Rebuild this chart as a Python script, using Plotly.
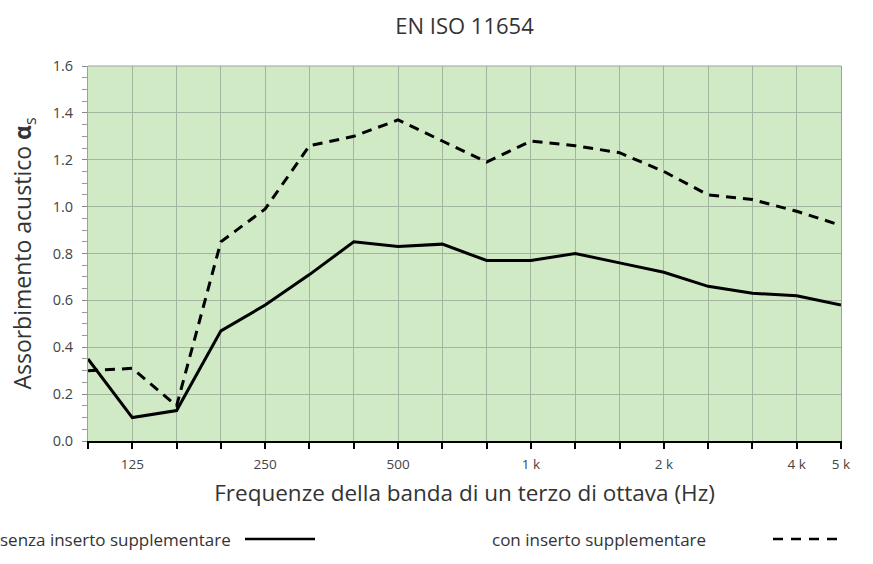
import plotly.graph_objects as go

# Third-octave band centre frequencies (Hz)
bands = ["100", "125", "160", "200", "250", "315", "400", "500", "630", "800",
         "1000", "1250", "1600", "2000", "2500", "3150", "4000", "5000"]
labelled_bands = ["125", "250", "500", "1000", "2000", "4000", "5000"]
tick_labels = ["125", "250", "500", "1 k", "2 k", "4 k", "5 k"]

senza = [0.35, 0.10, 0.13, 0.47, 0.58, 0.71, 0.85, 0.83, 0.84, 0.77,
         0.77, 0.80, 0.76, 0.72, 0.66, 0.63, 0.62, 0.58]
con = [0.30, 0.31, 0.15, 0.85, 0.99, 1.26, 1.30, 1.37, 1.28, 1.19,
       1.28, 1.26, 1.23, 1.15, 1.05, 1.03, 0.98, 0.92]

# band position on the (equally spaced) third-octave axis
pos = list(range(len(bands)))
tick_pos = [bands.index(b) for b in labelled_bands]

FONT = "Open Sans, Noto Sans, sans-serif"
TXT = "#333333"

# plot-area pixel geometry (873x564 canvas)
L, R, T, B = 88, 32, 66, 123
W = 873 - L - R
H = 564 - T - B


def px(x):
    return (x - L) / W


def py(y):
    return (564 - B - y) / H


fig = go.Figure()
fig.add_trace(go.Scatter(x=pos, y=senza, mode="lines", name="senza inserto supplementare",
                         text=bands, hovertemplate="%{text} Hz: %{y}<extra></extra>",
                         line=dict(color="black", width=3), showlegend=False))
fig.add_trace(go.Scatter(x=pos, y=con, mode="lines", name="con inserto supplementare",
                         text=bands, hovertemplate="%{text} Hz: %{y}<extra></extra>",
                         line=dict(color="black", width=3, dash="10px,7px"), showlegend=False))

GRID = "#a3b59f"

fig.update_layout(
    width=873, height=564,
    margin=dict(l=L, r=R, t=T, b=B),
    paper_bgcolor="white",
    plot_bgcolor="#cfeac5",
    font=dict(family=FONT, color=TXT, size=13),
    title=dict(text="EN ISO 11654", x=(L + W / 2) / 873, xanchor="center",
               xref="container", yref="container",
               y=1 - 26 / 564, yanchor="middle",
               font=dict(size=22, color=TXT, family=FONT)),
    xaxis=dict(
        range=[0, len(bands) - 1],
        tickmode="array", tickvals=tick_pos, ticktext=tick_labels,
        ticks="outside", ticklen=6, tickcolor="black", tickwidth=1.5,
        minor=dict(dtick=1, tick0=0, ticks="outside", ticklen=6, tickcolor="black",
                   tickwidth=1.5, showgrid=True, gridcolor=GRID, gridwidth=1),
        showline=True, linecolor="black", linewidth=2,
        showgrid=True, gridcolor=GRID, gridwidth=1,
        tickfont=dict(size=13.5, color="#444444"),
        ticklabelstandoff=4,
        title=dict(text="Frequenze della banda di un terzo di ottava (Hz)",
                   font=dict(size=22.5, color=TXT), standoff=13),
        zeroline=False,
    ),
    yaxis=dict(
        range=[0, 1.6], dtick=0.2, tickformat=".1f",
        ticks="outside", ticklen=5, tickcolor="#888888",
        showgrid=True, gridcolor=GRID, gridwidth=1,
        minor=dict(dtick=0.05, ticks="outside", ticklen=5, tickcolor="#999999", showgrid=False),
        showline=True, linecolor="#a0a0a0", linewidth=1, mirror=True,
        tickfont=dict(size=14.5, color="#444444"),
        ticklabelstandoff=6,
        title=dict(text="Assorbimento acustico <b>α</b><sub>s</sub>",
                   font=dict(size=23, color=TXT), standoff=14),
        zeroline=False,
    ),
)

# top border of plot area (grey)
fig.add_shape(type="line", xref="paper", yref="paper", x0=0, x1=1, y0=1, y1=1,
              line=dict(color="#a0a0a0", width=1))

# custom legend: text followed by line sample
LEG_Y = 539
fig.add_annotation(text="senza inserto supplementare", xref="paper", yref="paper",
                   x=px(-2), y=py(LEG_Y), xanchor="left", yanchor="middle",
                   showarrow=False, font=dict(size=17, color=TXT))
fig.add_shape(type="line", xref="paper", yref="paper", x0=px(245), x1=px(315),
              y0=py(LEG_Y), y1=py(LEG_Y), line=dict(color="black", width=2.5))
fig.add_annotation(text="con inserto supplementare", xref="paper", yref="paper",
                   x=px(490), y=py(LEG_Y), xanchor="left", yanchor="middle",
                   showarrow=False, font=dict(size=17, color=TXT))
fig.add_shape(type="line", xref="paper", yref="paper", x0=px(773), x1=px(845),
              y0=py(LEG_Y), y1=py(LEG_Y), line=dict(color="black", width=2.5, dash="10px,8px"))

fig.write_html("out.html", config={"displayModeBar": False},
               post_script="document.body.style.margin='0';")
